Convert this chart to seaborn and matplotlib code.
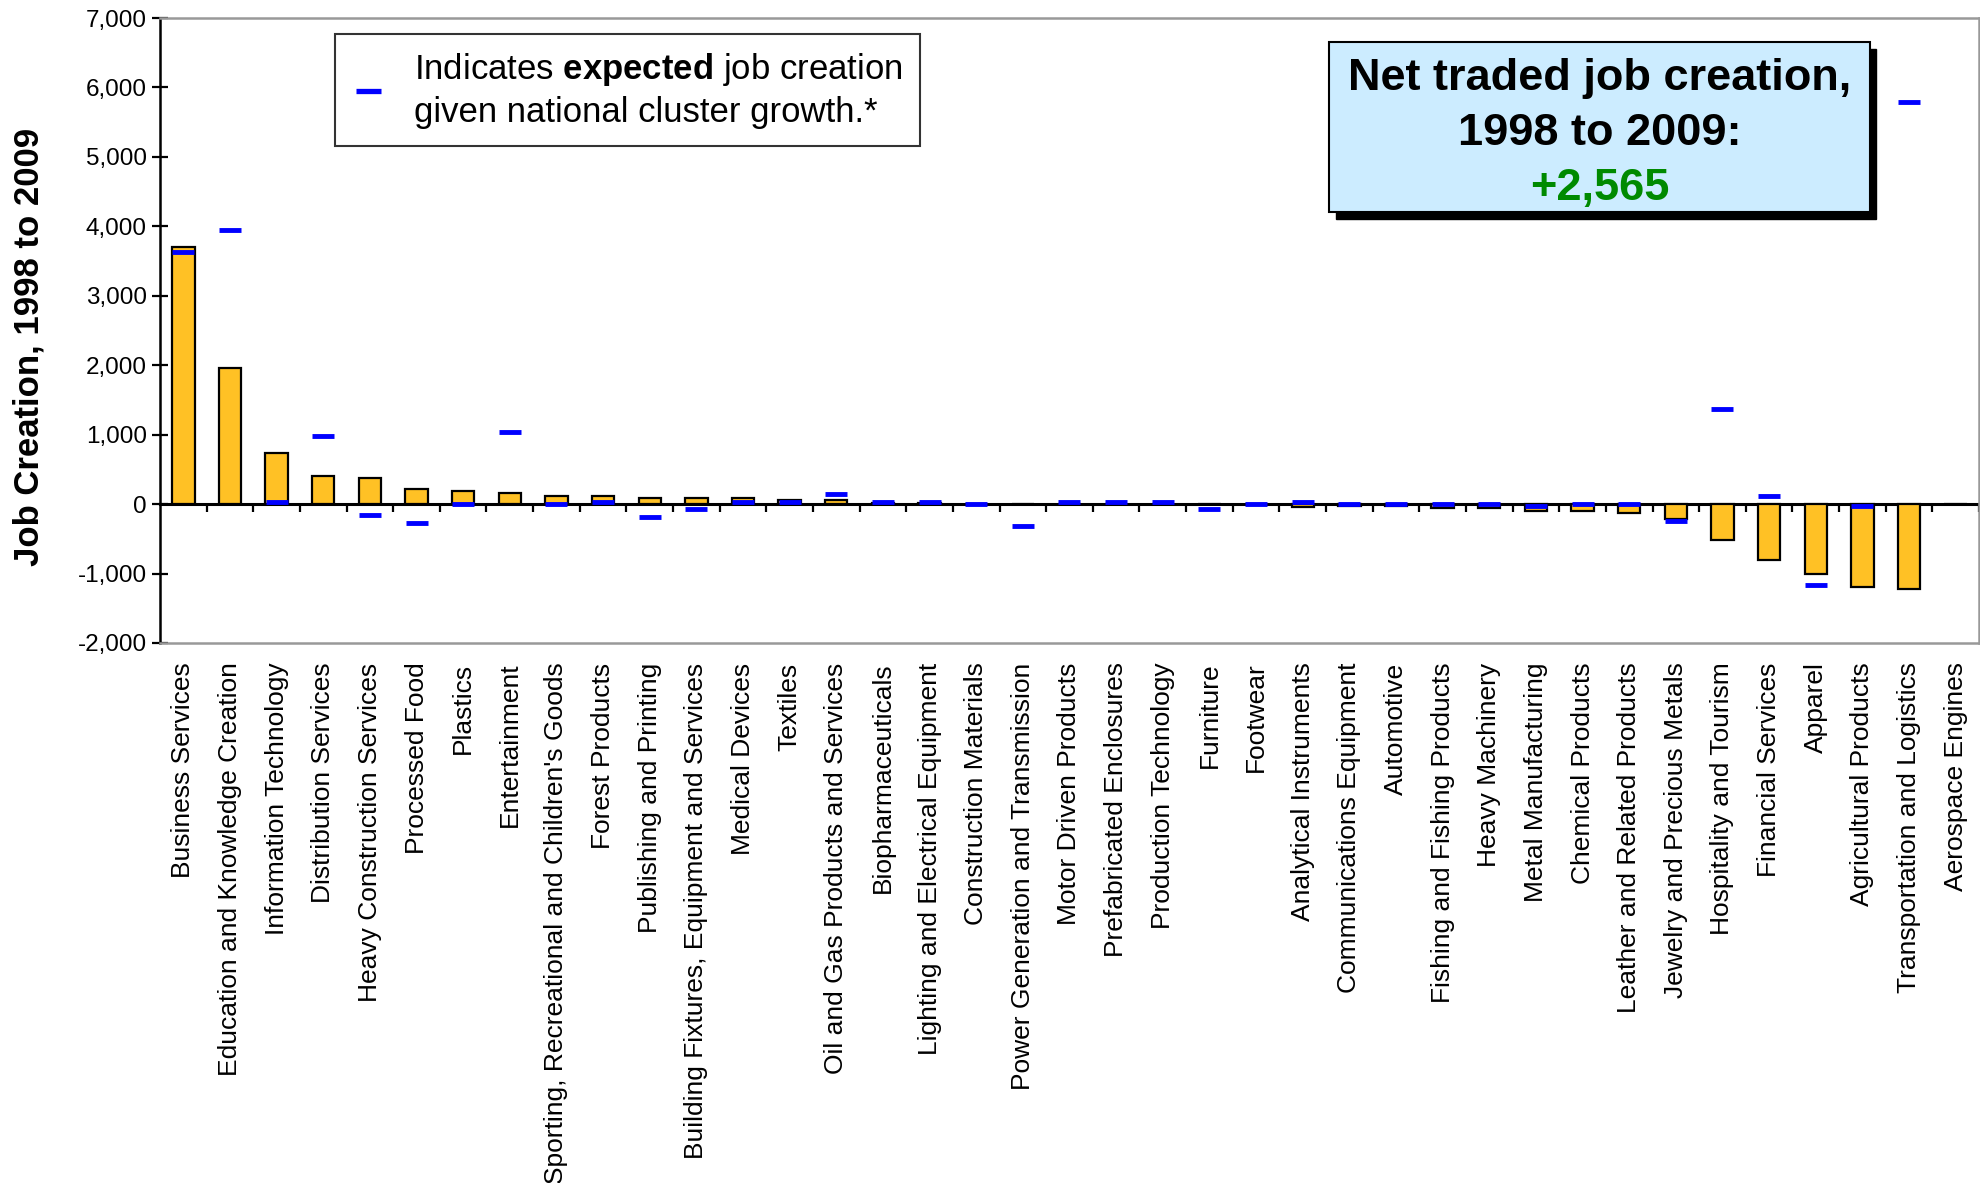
import numpy as np
import pandas as pd
import matplotlib
matplotlib.use("Agg")
import matplotlib.pyplot as plt
from matplotlib.lines import Line2D
from matplotlib.patches import Rectangle
import seaborn as sns

# cluster data
clusters = [
    "Business Services", "Education and Knowledge Creation", "Information Technology",
    "Distribution Services", "Heavy Construction Services", "Processed Food", "Plastics",
    "Entertainment", "Sporting, Recreational and Children's Goods", "Forest Products",
    "Publishing and Printing", "Building Fixtures, Equipment and Services", "Medical Devices",
    "Textiles", "Oil and Gas Products and Services", "Biopharmaceuticals",
    "Lighting and Electrical Equipment", "Construction Materials",
    "Power Generation and Transmission", "Motor Driven Products", "Prefabricated Enclosures",
    "Production Technology", "Furniture", "Footwear", "Analytical Instruments",
    "Communications Equipment", "Automotive", "Fishing and Fishing Products",
    "Heavy Machinery", "Metal Manufacturing", "Chemical Products",
    "Leather and Related Products", "Jewelry and Precious Metals", "Hospitality and Tourism",
    "Financial Services", "Apparel", "Agricultural Products", "Transportation and Logistics",
    "Aerospace Engines",
]

actual = [
    3704, 1955, 735, 400, 375, 218, 186,
    158, 122, 120,
    92, 90, 90,
    62, 62, 18,
    18, 5,
    0, 8, 8,
    8, 0, 0, -35,
    -25, -25, -55,
    -62, -96, -96,
    -125, -216, -522,
    -800, -1011, -1193, -1226,
    0,
]

expected = [
    3635, 3940, 30,
    975, -153, -275, -3,
    1040, -3, 25,
    -185, -65, 25,
    28, 150, 25,
    25, -2,
    -310, 28, 28,
    28, -65, -2, 28,
    -5, -5, -5,
    -5, -29, -2,
    -2, -240, 1375,
    122, -1160, -29, 5790,
    np.nan,
]

df = pd.DataFrame({"cluster": clusters, "actual": actual, "expected": expected})

sns.set_style("white")
plt.rcParams["font.family"] = ["Liberation Sans", "DejaVu Sans"]
plt.rcParams["mathtext.fontset"] = "custom"
plt.rcParams["mathtext.rm"] = "Liberation Sans"
plt.rcParams["mathtext.bf"] = "Liberation Sans:bold"
plt.rcParams["text.color"] = "black"
plt.rcParams["axes.labelcolor"] = "black"
plt.rcParams["xtick.color"] = "black"
plt.rcParams["ytick.color"] = "black"

fig = plt.figure(figsize=(19.81, 11.83), dpi=100)
ax = fig.add_axes([160 / 1981, 1 - 643 / 1183, 1819 / 1981, 625 / 1183])

sns.barplot(
    data=df, x="cluster", y="actual", order=clusters,
    color="#FFC125", saturation=1, edgecolor="black", linewidth=1.6,
    width=0.48, ax=ax, zorder=2,
)

sns.pointplot(
    data=df, x="cluster", y="expected", order=clusters,
    color="#0000FF", marker="_", linestyle="none", markersize=16,
    markeredgewidth=3.5, errorbar=None, ax=ax,
)
for coll in ax.collections + ax.lines:
    coll.set_zorder(4)

n = len(clusters)
ax.set_xlim(-0.5, n - 0.5)
ax.set_ylim(-2000, 7000)
ax.set_yticks(range(-2000, 7001, 1000))
ax.set_yticklabels([f"{v:,}" for v in range(-2000, 7001, 1000)], fontsize=17.5)
ax.tick_params(axis="y", direction="inout", length=11, width=1.6, left=True, pad=4)

ax.set_xlabel("")
ax.set_ylabel("Job Creation, 1998 to 2009", fontsize=25, fontweight="bold")
ax.yaxis.set_label_coords(-0.063, 0.474)
ax.tick_params(axis="x", length=0, pad=14)
ax.set_xticks(range(n))
ax.set_xticklabels(clusters, rotation=90, fontsize=19, ha="center", va="top")

# frame: black left axis, grey border elsewhere
ax.spines["left"].set_color("black")
ax.spines["left"].set_linewidth(1.8)
for side in ["top", "right", "bottom"]:
    ax.spines[side].set_color("#999999")
    ax.spines[side].set_linewidth(1.8)

# zero line with category tick marks
zero_axis = ax.secondary_xaxis(2000 / 9000)
zero_axis.set_xticks(np.arange(0.5, n, 1.0))
zero_axis.set_xticklabels([])
zero_axis.tick_params(axis="x", direction="out", length=6, width=1.6, color="black")
zero_axis.spines["bottom"].set_color("black")
zero_axis.spines["bottom"].set_linewidth(2.2)
zero_axis.spines["bottom"].set_zorder(3)

# legend for the expected marker
handle = Line2D([], [], color="#0000FF", marker="_", linestyle="none",
                markersize=18, markeredgewidth=3.8)
leg = ax.legend(
    [handle],
    ["Indicates $\\mathbf{expected}$ job creation\ngiven national cluster growth.*"],
    loc="upper left", bbox_to_anchor=(0.096, 0.975), borderaxespad=0,
    fontsize=25, frameon=True, fancybox=False, edgecolor="black",
    handlelength=0.9, handletextpad=0.9, borderpad=0.5,
)
leg.get_frame().set_linewidth(1.5)
leg.get_texts()[0].set_linespacing(1.3)

# summary box with shadow
bx, by, bw, bh = 0.6427, 0.6896, 0.2973, 0.272
shadow = Rectangle((bx + 0.0036, by - 0.011), bw, bh, transform=ax.transAxes,
                   facecolor="black", edgecolor="black", zorder=5)
box = Rectangle((bx, by), bw, bh, transform=ax.transAxes,
                facecolor="#CCECFF", edgecolor="black", linewidth=1.5, zorder=6)
ax.add_patch(shadow)
ax.add_patch(box)
cx = bx + bw / 2
ax.text(cx, 0.903, "Net traded job creation,", transform=ax.transAxes,
        ha="center", va="center", fontsize=32.5, fontweight="bold", zorder=7)
ax.text(cx, 0.8155, "1998 to 2009:", transform=ax.transAxes,
        ha="center", va="center", fontsize=32.5, fontweight="bold", zorder=7)
ax.text(cx, 0.727, "+2,565", transform=ax.transAxes,
        ha="center", va="center", fontsize=32.5, fontweight="bold",
        color="#008A00", zorder=7)

plt.savefig("out.png", dpi=100)
